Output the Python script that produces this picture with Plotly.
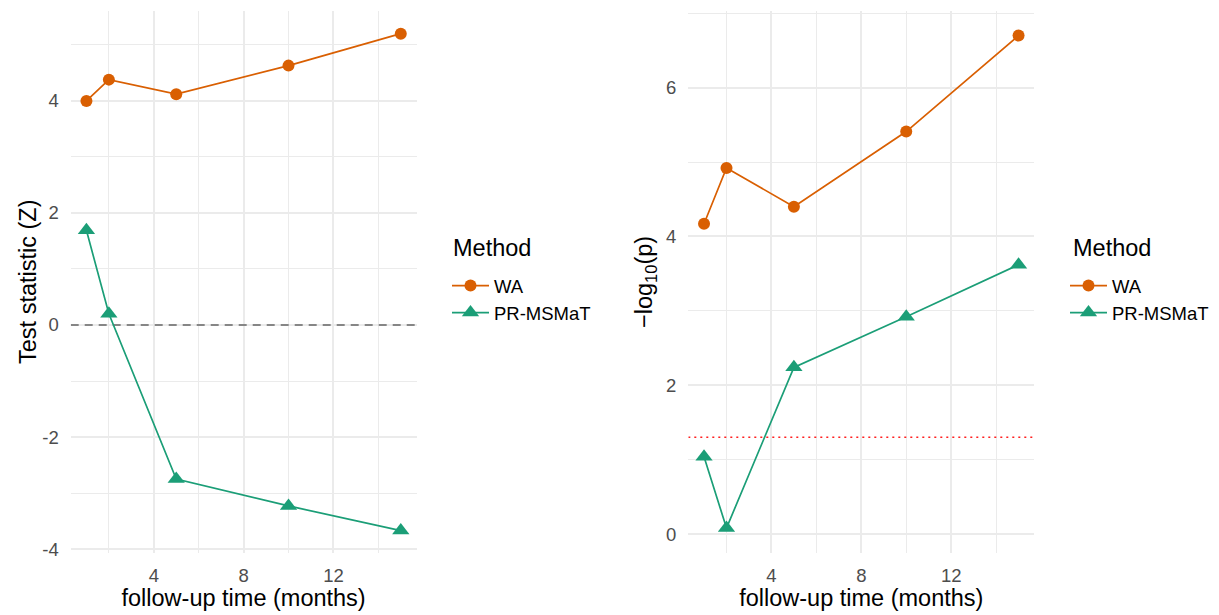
import plotly.graph_objects as go

# ---- data ----
months = [1, 2, 5, 10, 15]
methods = ["WA", "PR-MSMaT"]
z_wa = [4.00, 4.38, 4.12, 4.63, 5.20]
z_pr = [1.69, 0.20, -2.75, -3.23, -3.67]
p_wa = [4.17, 4.92, 4.40, 5.41, 6.70]
p_pr = [1.04, 0.08, 2.24, 2.92, 3.62]
x_ticks = [4, 8, 12]
z_ticks = [-4, -2, 0, 2, 4]
z_ticktext = ["-4", "-2", "0", "2", "4"]
p_ticks = [0, 2, 4, 6]
z_ref = 0.0
alpha_line = 1.30103  # -log10(0.05)
legend_title = "Method"
x_title = "follow-up time (months)"
y_titles = ["Test statistic (Z)", "−log<sub>10</sub>(p)"]

X_RANGE = [0.3, 15.7]
W, H = 1219, 615
col_wa = "#D95F02"
col_pr = "#1B9E77"
FONT = "Liberation Sans, Arial, sans-serif"
TICK = 18.5
TITLE = 23.5

def px_x(p):
    return p / W

def px_y(p):
    return 1 - p / H

fig = go.Figure()

# reference lines (drawn first, so they sit above the grid but under the data)
fig.add_trace(go.Scatter(
    x=X_RANGE, y=[z_ref, z_ref], xaxis="x", yaxis="y", mode="lines",
    line=dict(color="#666666", width=1.6, dash="8px,6px"),
    showlegend=False, hoverinfo="skip"))
fig.add_trace(go.Scatter(
    x=X_RANGE, y=[alpha_line, alpha_line], xaxis="x2", yaxis="y2", mode="lines",
    line=dict(color="#FF2020", width=1.6, dash="2px,4px"),
    showlegend=False, hoverinfo="skip"))

series = [
    ("x", "y", z_wa, z_pr, "legend"),
    ("x2", "y2", p_wa, p_pr, "legend2"),
]
for xa, ya, wa, pr, lg in series:
    fig.add_trace(go.Scatter(
        x=months, y=wa, name=methods[0], xaxis=xa, yaxis=ya, legend=lg,
        mode="lines+markers", line=dict(color=col_wa, width=1.7),
        marker=dict(symbol="circle", size=12, color=col_wa)))
    fig.add_trace(go.Scatter(
        x=months, y=pr, name=methods[1], xaxis=xa, yaxis=ya, legend=lg,
        mode="lines+markers", line=dict(color=col_pr, width=1.7),
        marker=dict(symbol="triangle-up", size=15, color=col_pr)))

grid = "#EBEBEB"
def xaxis_def(domain, anchor):
    return dict(
        domain=domain, range=X_RANGE, tickvals=x_ticks, anchor=anchor,
        showgrid=True, gridcolor=grid, gridwidth=2,
        minor=dict(dtick=2, tick0=0, showgrid=True, gridcolor=grid, gridwidth=1.2),
        zeroline=False, showline=False, ticks="", automargin=False,
        tickfont=dict(size=TICK, color="#4D4D4D", family=FONT),
        ticklabelstandoff=9,
        title=dict(text=x_title, standoff=5,
                   font=dict(size=TITLE, color="black", family=FONT)),
    )

def yaxis_def(domain, rng, ticks, ticktext, anchor):
    d = dict(
        domain=domain, range=rng, tickvals=ticks, anchor=anchor,
        showgrid=True, gridcolor=grid, gridwidth=2,
        minor=dict(dtick=1, tick0=0, showgrid=True, gridcolor=grid, gridwidth=1.2),
        zeroline=False, showline=False, ticks="", automargin=False,
        tickfont=dict(size=TICK, color="#4D4D4D", family=FONT),
        ticklabelstandoff=11,
    )
    if ticktext is not None:
        d["ticktext"] = ticktext
    return d

ydom = [px_y(553), px_y(11)]
leg_common = dict(
    xanchor="left", yanchor="top", itemwidth=37,
    font=dict(size=TICK, color="black", family=FONT),
    bgcolor="rgba(0,0,0,0)")

annots = []
for xpx in (451, 1071):
    annots.append(dict(text=legend_title, xref="paper", yref="paper",
                       x=px_x(xpx), y=px_y(248), xanchor="left", yanchor="middle",
                       showarrow=False,
                       font=dict(size=TITLE, color="black", family=FONT)))
for xpx, t in zip((28, 645), y_titles):
    annots.append(dict(text=t, xref="paper", yref="paper", textangle=-90,
                       x=px_x(xpx), y=px_y(282), xanchor="center", yanchor="middle",
                       showarrow=False,
                       font=dict(size=TITLE, color="black", family=FONT)))

fig.update_layout(
    width=W, height=H,
    margin=dict(l=0, r=0, t=0, b=0),
    paper_bgcolor="white", plot_bgcolor="white",
    font=dict(family=FONT),
    xaxis=xaxis_def([px_x(70.7), px_x(416.5)], "y"),
    xaxis2=xaxis_def([px_x(688.3), px_x(1034.3)], "y2"),
    yaxis=yaxis_def(ydom, [-4.07, 5.605], z_ticks, z_ticktext, "x"),
    yaxis2=yaxis_def(ydom, [-0.255, 7.03], p_ticks, None, "x2"),
    legend=dict(x=px_x(447), y=px_y(267), **leg_common),
    legend2=dict(x=px_x(1065), y=px_y(267), **leg_common),
    annotations=annots,
)

fig.write_html("out.html", config={"displayModeBar": False},
               post_script="document.body.style.margin='0';")
